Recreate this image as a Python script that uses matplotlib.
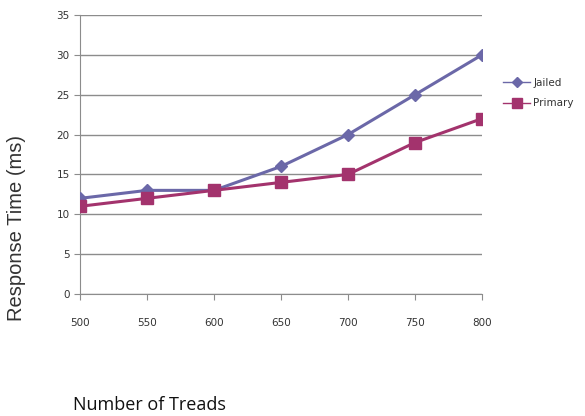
import matplotlib
matplotlib.use("Agg")
import matplotlib.pyplot as plt
from matplotlib.lines import Line2D

threads = [500, 550, 600, 650, 700, 750, 800]
jailed = [12, 13, 13, 16, 20, 25, 30]
primary = [11, 12, 13, 14, 15, 19, 22]
yticks = [0, 5, 10, 15, 20, 25, 30, 35]

c_j = '#6B68A8'
c_p = '#A3336D'

fig = plt.figure(figsize=(5.85, 4.16), dpi=100)
ax = fig.add_axes([80/585, 1-294/416, (482-80)/585, (294-15)/416])

ax.plot(threads, jailed, color=c_j, lw=2.2, marker='D', ms=6, label='Jailed', zorder=3)
ax.plot(threads, primary, color=c_p, lw=2.2, marker='s', ms=9, label='Primary', zorder=3)

ax.set_xlim(500, 800)
ax.set_ylim(0, 35)
ax.set_yticks(yticks)
ax.set_xticks(threads)
ax.yaxis.grid(True, color='#8c8c8c', lw=1)
ax.set_axisbelow(True)
for s in ['top', 'right']:
    ax.spines[s].set_visible(False)
for s in ['left', 'bottom']:
    ax.spines[s].set_color('#8c8c8c')
ax.tick_params(axis='both', colors='#8c8c8c', length=4, labelcolor='#333333', labelsize=7.5)
ax.tick_params(axis='x', pad=13)

fig.text(17/585, 1-228/416, 'Response Time (ms)', fontsize=14.5, family='Liberation Sans',
         color='#333333', rotation=90, va='center', ha='center')
fig.text(73/585, 1-405/416, 'Number of Treads', fontsize=13, family='Open Sans', color='#111111',
         va='center', ha='left')

handles = [Line2D([], [], color=c_j, lw=1, marker='D', ms=5),
           Line2D([], [], color=c_p, lw=1, marker='s', ms=7)]
leg = ax.legend(handles, ['Jailed', 'Primary'], loc='center left',
                bbox_to_anchor=(503/585, 1-93/416), bbox_transform=fig.transFigure,
                frameon=False, fontsize=7.5, handlelength=2.6, handletextpad=0.3,
                borderaxespad=0, borderpad=0, labelspacing=1.0)
for t in leg.get_texts():
    t.set_color('#333333')

fig.savefig('out.png', dpi=100)
